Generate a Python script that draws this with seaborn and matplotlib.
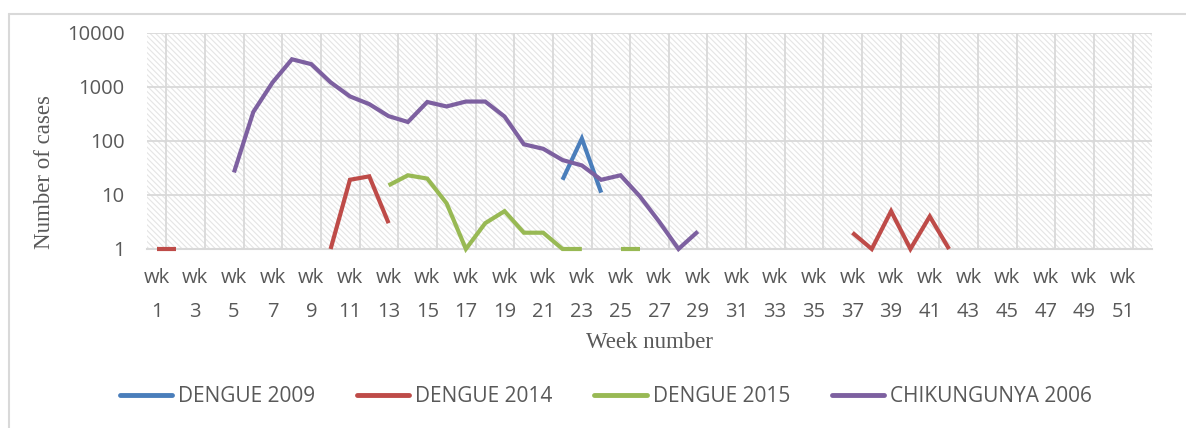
import numpy as np
import pandas as pd
import matplotlib
matplotlib.use("Agg")
import matplotlib.pyplot as plt
from matplotlib.lines import Line2D
import seaborn as sns

weeks = list(range(1, 53))

# values by week (missing week = no data)
dengue_2009 = {22: 19, 23: 110, 24: 11}
dengue_2014 = {1: 1, 2: 1, 10: 1, 11: 19, 12: 22, 13: 3,
               37: 2, 38: 1, 39: 5, 40: 1, 41: 4, 42: 1}
dengue_2015 = {13: 15, 14: 23, 15: 20, 16: 7, 17: 1, 18: 3, 19: 5, 20: 2,
               21: 2, 22: 1, 23: 1, 25: 1, 26: 1}
chik_2006 = {5: 26, 6: 340, 7: 1200, 8: 3200, 9: 2600, 10: 1200, 11: 660,
             12: 475, 13: 285, 14: 222, 15: 520, 16: 430, 17: 530, 18: 530,
             19: 280, 20: 86, 21: 71, 22: 44, 23: 35, 24: 19, 25: 23,
             26: 9.4, 27: 3.2, 28: 1, 29: 2.1}

series_names = ["DENGUE 2009", "DENGUE 2014", "DENGUE 2015", "CHIKUNGUNYA 2006"]
series_data = [dengue_2009, dengue_2014, dengue_2015, chik_2006]
colors = ["#4A7EBB", "#BE4B48", "#98B954", "#7D60A0"]

tick_weeks = list(range(1, 52, 2))
tick_labels = [f"wk\n{w}" for w in tick_weeks]
ytick_vals = [1, 10, 100, 1000, 10000]
ytick_labels = ["1", "10", "100", "1000", "10000"]

# long-form data with contiguous segments
rows = []
for name, d in zip(series_names, series_data):
    seg = 0
    prev = None
    for w in weeks:
        if w in d:
            if prev is None or prev != w - 1:
                seg += 1
            rows.append({"week": w, "cases": d[w], "series": name,
                         "seg": f"{name}-{seg}"})
            prev = w
df = pd.DataFrame(rows)

sns.set_theme(style="white")
plt.rcParams["hatch.color"] = "#e5e5e5"
plt.rcParams["hatch.linewidth"] = 0.8

fig = plt.figure(figsize=(11.86, 4.28), dpi=100)
ax = fig.add_axes([147 / 1186, 1 - 249 / 428, (1152 - 147) / 1186, (249 - 32.5) / 428])

ax.patch.set_facecolor("white")
ax.patch.set_edgecolor("#e5e5e5")
ax.patch.set_hatch("\\\\\\\\\\\\")

palette = dict(zip(series_names, colors))
sns.lineplot(data=df, x="week", y="cases", hue="series", units="seg",
             estimator=None, palette=palette, linewidth=3.0, ax=ax,
             legend=False, sort=True)
for ln in ax.get_lines():
    ln.set_clip_on(False)
    ln.set_zorder(4)
    ln.set_solid_capstyle("butt")
    ln.set_solid_joinstyle("miter")

ax.set_yscale("log")
ax.set_ylim(1, 10000)
ax.set_xlim(0.5, 52.5)
ax.set_yticks(ytick_vals)
ax.set_yticklabels(ytick_labels)
ax.yaxis.set_minor_locator(matplotlib.ticker.NullLocator())
ax.set_xticks(tick_weeks)
ax.set_xticklabels(tick_labels, linespacing=1.9)

# grid
for y in ytick_vals[1:]:
    ax.axhline(y, color="#d9d9d9", lw=1.3, zorder=1)
for x in np.arange(1.5, 52.5, 2):
    ax.axvline(x, color="#d9d9d9", lw=1.3, zorder=1)

for s in ["left", "right", "top"]:
    ax.spines[s].set_visible(False)
ax.spines["bottom"].set_color("#d9d9d9")
ax.spines["bottom"].set_linewidth(1.5)

tick_font = "Open Sans"
ax.tick_params(axis="both", length=0, colors="#595959")
ax.tick_params(axis="y", pad=16)
ax.tick_params(axis="x", pad=14)
for lab in ax.get_yticklabels():
    lab.set_fontfamily(tick_font)
    lab.set_fontsize(14.5)
for lab in ax.get_xticklabels():
    lab.set_fontfamily(tick_font)
    lab.set_fontsize(14.5)

ax.set_xlabel("")
ax.set_ylabel("")
fig.text(45 / 1186, 1 - 172 / 428, "Number of cases", rotation=90,
         ha="center", va="center", fontsize=16.5, color="#595959",
         family="Liberation Serif")
fig.text(650 / 1186, 1 - 343 / 428, "Week number", ha="center", va="center",
         fontsize=16.5, color="#595959", family="Liberation Serif")

handles = [Line2D([0], [0], color=c, lw=3.5) for c in colors]
leg = fig.legend(handles, series_names, loc="center",
                 bbox_to_anchor=(606 / 1186, 1 - 397 / 428), ncol=4,
                 frameon=False, handlelength=2.5, handletextpad=0.3,
                 columnspacing=2.0,
                 prop={"family": tick_font, "size": 15})
for t in leg.get_texts():
    t.set_color("#595959")

# chart frame (top and left edges visible)
fig.add_artist(Line2D([9 / 1186, 9 / 1186], [0, 1 - 14 / 428],
                      transform=fig.transFigure, color="#d9d9d9", lw=1.5))
fig.add_artist(Line2D([9 / 1186, 1], [1 - 14 / 428, 1 - 14 / 428],
                      transform=fig.transFigure, color="#d9d9d9", lw=1.5))

fig.savefig("out.png", dpi=100, facecolor="white")
